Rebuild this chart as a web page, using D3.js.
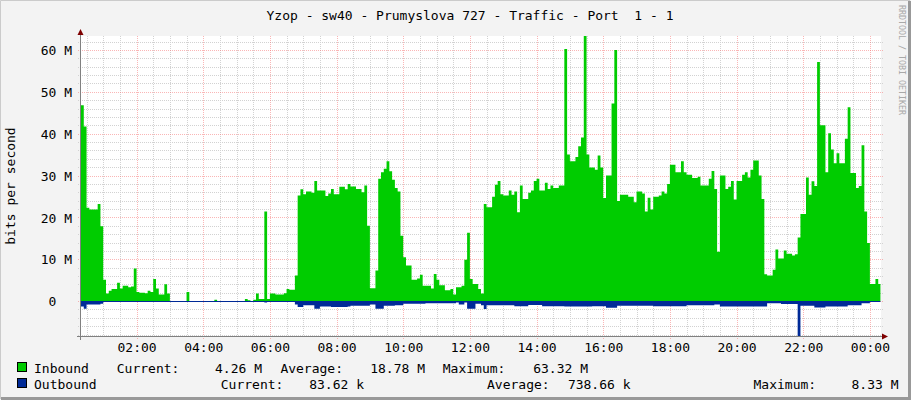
<!DOCTYPE html>
<html><head><meta charset="utf-8">
<script src="https://cdn.jsdelivr.net/npm/d3@7"></script>
<style>
html,body{margin:0;padding:0;background:#f3f3f3;}
svg text{font-family:"DejaVu Sans Mono",monospace;white-space:pre;}
</style></head>
<body><svg id="c" width="911" height="400"></svg>
<script>
const title = "Yzop - sw40 - Prumyslova 727 - Traffic - Port  1 - 1";
const yAxisTitle = "bits per second";
const watermark = "RRDTOOL / TOBI OETIKER";
const startTime = "00:20", endTime = "00:20";

const inTimes = ["00:20","00:25","00:30","00:35","00:50","00:55","01:00","01:05","01:10","01:15","01:25","01:30","01:35","01:45","01:50","01:55","02:00","02:05","02:15","02:20","02:25","02:30","02:35","02:40","02:50","02:55","03:00","03:30","03:35","04:20","04:25","05:15","05:20","05:25","05:30","05:35","05:40","05:50","05:55","06:00","06:10","06:25","06:30","06:35","06:45","06:50","06:55","07:00","07:05","07:15","07:20","07:25","07:40","07:45","07:50","07:55","08:05","08:15","08:20","08:25","08:35","08:45","08:50","08:55","09:00","09:10","09:15","09:20","09:25","09:30","09:35","09:40","09:45","09:50","09:55","10:00","10:05","10:15","10:25","10:30","10:35","10:50","10:55","11:00","11:05","11:15","11:25","11:30","11:35","11:45","11:50","11:55","12:00","12:05","12:15","12:20","12:25","12:30","12:40","12:45","12:50","12:55","13:00","13:10","13:15","13:20","13:25","13:30","13:35","13:45","13:50","13:55","14:00","14:05","14:15","14:20","14:25","14:30","14:40","14:50","14:55","15:00","15:10","15:15","15:20","15:25","15:30","15:35","15:45","15:50","15:55","16:00","16:05","16:15","16:20","16:25","16:30","16:45","16:55","17:00","17:10","17:15","17:20","17:25","17:30","17:40","17:45","17:50","17:55","18:00","18:10","18:20","18:25","18:30","18:40","18:50","18:55","19:10","19:15","19:20","19:25","19:30","19:40","19:45","19:50","19:55","20:00","20:10","20:15","20:20","20:25","20:30","20:40","20:45","20:50","20:55","21:05","21:10","21:15","21:25","21:30","21:40","21:45","21:50","21:55","22:05","22:10","22:15","22:20","22:25","22:30","22:40","22:45","22:50","22:55","23:00","23:05","23:15","23:20","23:25","23:35","23:40","23:45","23:50","23:55","00:00","00:10","00:15","00:19"];
const inValues = [46.8,41.7,22.3,21.9,23.2,17.9,5.1,1.8,2.5,2.9,4.4,3.0,3.7,3.3,3.5,7.8,2.2,2.0,1.9,2.5,2.2,5.3,3.0,1.6,4.0,1.8,0,2.2,0,0.3,0,0.5,0.2,0,0.3,1.8,0.5,21.4,0.5,1.8,1.6,1.9,2.9,2.7,6.1,25.2,26.7,25.5,26.2,25.9,28.7,26.4,25.1,25.7,26.8,25.5,27.3,26.7,28.0,27.4,26.8,26.0,27.6,18.0,3.1,7.3,29.2,30.8,31.6,33.4,31.0,29.0,27.0,26.2,15.6,10.5,8.5,5.1,5.4,6.3,3.7,3.0,6.5,5.1,3.8,2.6,2.9,1.6,3.3,3.7,9.9,16.3,5.3,4.1,2.9,1.8,23.2,22.4,24.9,27.8,28.7,25.5,25.2,26.4,25.4,26.2,21.2,27.6,24.4,25.9,26.4,28.7,29.2,26.4,28.3,26.8,27.6,27.0,27.6,60.2,35.0,33.4,34.4,37.0,39.1,63.32,35.0,31.9,31.4,34.8,31.9,24.6,30.0,47.2,60.0,23.9,25.4,24.9,23.6,26.2,25.7,21.4,24.7,21.9,24.9,25.2,26.2,25.7,28.0,32.6,30.8,33.4,30.8,30.2,29.4,29.7,27.6,29.2,31.1,26.8,11.8,30.0,26.8,27.3,28.7,24.3,28.7,30.2,30.8,29.5,31.4,33.6,30.0,24.4,6.4,6.1,7.5,12.3,10.2,12.1,11.3,10.9,11.2,15.2,20.8,29.5,25.4,28.6,27.5,57.1,42.0,30.8,40.1,36.2,32.9,35.3,32.9,38.8,46.3,30.6,27.0,27.5,37.2,21.4,13.9,4.1,5.3,4.1,4.1];

const outTimes = ["00:20","00:25","00:30","00:55","01:00","05:50","05:55","06:45","06:50","07:00","07:20","07:30","07:50","08:20","08:25","09:00","09:10","09:25","09:45","10:00","10:40","11:35","11:40","11:50","11:55","12:10","12:20","12:25","12:30","13:20","13:45","14:10","14:50","15:40","16:05","16:25","17:30","18:30","19:20","19:30","20:55","21:20","21:50","21:55","22:20","22:40","23:20","23:45","00:00","00:19"];
const outValues = [-1.3,-1.8,-0.8,-0.6,-0.1,-0.3,-0.1,-0.8,-1.4,-1.0,-1.8,-1.3,-1.4,-1.3,-1.1,-0.8,-1.8,-1.1,-1.0,-0.6,-0.5,-0.3,-0.8,-0.3,-1.8,-0.6,-1.0,-1.9,-1.0,-1.2,-0.9,-1.2,-1.3,-1.2,-1.6,-1.1,-1.2,-1.0,-0.8,-1.3,-0.5,-0.7,-8.33,-1.1,-1.5,-1.3,-1.0,-0.5,-0.2,-0.2];

const xTickLabels = ["02:00","04:00","06:00","08:00","10:00","12:00","14:00","16:00","18:00","20:00","22:00","00:00"];
const yTickValues = [0,10,20,30,40,50,60];
const yTickLabels = ["0","10 M","20 M","30 M","40 M","50 M","60 M"];
const yDomain = [-8.33, 63.32];

const legendNames = ["Inbound","Outbound"];
const legendColors = ["#00CC00","#002A97"];
const legendCurrent = ["4.26 M","83.62 k"];
const legendAverage = ["18.78 M","738.66 k"];
const legendMaximum = ["63.32 M","8.33 M"];

// parse "HH:MM" sequences with day rollover
const base = new Date(2024,0,1,0,0,0);
function parseSeq(arr){
  let day=0, prev=-1;
  return arr.map(s=>{
    const [h,m]=s.split(":").map(Number);
    const mins=h*60+m;
    if(mins<prev) day++;
    prev=mins;
    return new Date(base.getTime()+ (day*1440+mins)*60000);
  });
}
const inT = parseSeq(inTimes);
const outT = parseSeq(outTimes);
const t0 = parseSeq([startTime])[0];
const t1 = new Date(parseSeq([endTime])[0].getTime()+86400000);

const svg = d3.select("#c");
const L=81, R=881, T=36, B=336;
const x = d3.scaleTime().domain([t0,t1]).range([L,R]);
const y = d3.scaleLinear().domain(yDomain.map(v=>v*1e6)).range([B,T]);

// frame
svg.append("rect").attr("x",0).attr("y",0).attr("width",911).attr("height",400).attr("fill","#f3f3f3");
svg.append("path").attr("d","M0.5,399 V0.5 H910").attr("stroke","#cbcbcb").attr("stroke-width",1).attr("fill","none");
svg.append("path").attr("d","M1,398.5 H909.5 V1").attr("stroke","#999999").attr("stroke-width",3).attr("fill","none");
// canvas
svg.append("rect").attr("x",L).attr("y",T).attr("width",R-L).attr("height",B-T).attr("fill","#ffffff");

const grid = svg.append("g").attr("shape-rendering","crispEdges");
const minorCol = "#d2d2d2", majorCol = "rgba(245,110,110,0.5)";
// minor grid: every 30 min, every 2M
const minorX = d3.timeMinute.every(30).range(t0,t1);
minorX.forEach(d=>{
  if(d.getMinutes()===0 && d.getHours()%2===0) return;
  const xx=Math.round(x(d))+0.5;
  grid.append("line").attr("x1",xx).attr("x2",xx).attr("y1",T).attr("y2",B+2)
    .attr("stroke",minorCol).attr("stroke-dasharray","1,1");
});
d3.range(-8,64,2).forEach(v=>{
  if(v%10===0) return;
  const yy=Math.round(y(v*1e6))+0.5;
  grid.append("line").attr("x1",L-3).attr("x2",R+2).attr("y1",yy).attr("y2",yy)
    .attr("stroke",minorCol).attr("stroke-dasharray","1,1");
});
// major grid
const majorX = xTickLabels.map((s,i)=>parseSeq(xTickLabels.slice(0,i+1)).pop());
majorX.forEach(d=>{
  const xx=Math.round(x(d))+0.5;
  grid.append("line").attr("x1",xx).attr("x2",xx).attr("y1",T).attr("y2",B+3)
    .attr("stroke",majorCol).attr("stroke-dasharray","1,1");
});
yTickValues.forEach(v=>{
  const yy=Math.round(y(v*1e6))+0.5;
  grid.append("line").attr("x1",L-3).attr("x2",R+2).attr("y1",yy).attr("y2",yy)
    .attr("stroke",majorCol).attr("stroke-dasharray","1,1");
});

// areas
const inData = inT.map((t,i)=>({t,v:inValues[i]*1e6}));
const outData = outT.map((t,i)=>({t,v:outValues[i]*1e6}));
const area = d3.area().x(d=>x(d.t)).y0(y(0)).y1(d=>y(d.v)).curve(d3.curveStepAfter);
svg.append("path").datum(inData).attr("d",area).attr("fill",legendColors[0]);
svg.append("path").datum(outData).attr("d",area).attr("fill",legendColors[1]);
svg.append("line").attr("x1",x(inT[0])).attr("x2",x(inT[inT.length-1]))
  .attr("y1",Math.round(y(0))+0.5).attr("y2",Math.round(y(0))+0.5)
  .attr("stroke",legendColors[1]).attr("shape-rendering","crispEdges");

// axes lines
const ax = svg.append("g").attr("shape-rendering","crispEdges");
ax.append("line").attr("x1",L-0.5).attr("x2",L-0.5).attr("y1",T-4).attr("y2",B+4).attr("stroke","#808080");
ax.append("line").attr("x1",L-4).attr("x2",R+4).attr("y1",B+0.5).attr("y2",B+0.5).attr("stroke","#808080");
svg.append("path").attr("d",`M${L-3.5},${T-1} L${L-0.5},${T-7} L${L+2.5},${T-1} Z`).attr("fill","#7f0000");
svg.append("path").attr("d",`M${R+1},${B-2.5} L${R+7},${B+0.5} L${R+1},${B+3.5} Z`).attr("fill","#7f0000");

// y axis labels
const yAxis = d3.axisLeft(y).tickValues(yTickValues.map(v=>v*1e6))
  .tickFormat((d,i)=>yTickLabels[i]).tickSize(0).tickPadding(0);
const gy = svg.append("g").attr("transform",`translate(${L-9},0)`).call(yAxis);
gy.select(".domain").remove();
gy.selectAll("text").attr("font-family","DejaVu Sans Mono").attr("font-size",13).attr("fill","#000")
  .attr("dy","0.36em")
  .attr("dx",(d,i)=> yTickLabels[i].indexOf(" ")<0 ? -15.6 : 0);

// x axis labels
const xAxis = d3.axisBottom(x).tickValues(majorX).tickFormat(d3.timeFormat("%H:%M")).tickSize(0).tickPadding(0);
const gx = svg.append("g").attr("transform",`translate(0,${B+7})`).call(xAxis);
gx.select(".domain").remove();
gx.selectAll("text").attr("font-family","DejaVu Sans Mono").attr("font-size",13).attr("fill","#000").attr("dy","0.71em");

// title
svg.append("text").attr("x",470).attr("y",20).attr("text-anchor","middle")
  .attr("font-size",13).attr("fill","#000").text(title);
// y title
svg.append("text").attr("transform","translate(15,186) rotate(-90)").attr("text-anchor","middle")
  .attr("font-size",13).attr("fill","#000").text(yAxisTitle);
// watermark
svg.append("text").attr("transform","translate(899,5) rotate(90)").attr("text-anchor","start")
  .attr("font-size",8.3).attr("fill","#a8a8a8").text(watermark);

// legend
const rowY=[373,389];
const lab = [[116.8,280.4,442.8],[220.8,487,753.5]];
const valEnd = [[262,425,588],[364,630.5,898.5]];
legendNames.forEach((n,i)=>{
  svg.append("rect").attr("x",17.5).attr("y",rowY[i]-10.5).attr("width",9).attr("height",9)
    .attr("fill",legendColors[i]).attr("stroke","#000").attr("shape-rendering","crispEdges");
  svg.append("text").attr("x",34).attr("y",rowY[i]).attr("font-size",13).text(n);
  ["Current:","Average:","Maximum:"].forEach((l,j)=>{
    svg.append("text").attr("x",lab[i][j]).attr("y",rowY[i]).attr("font-size",13).text(l);
  });
  [legendCurrent[i],legendAverage[i],legendMaximum[i]].forEach((v,j)=>{
    svg.append("text").attr("x",valEnd[i][j]).attr("y",rowY[i]).attr("text-anchor","end").attr("font-size",13).text(v);
  });
});
</script></body></html>
